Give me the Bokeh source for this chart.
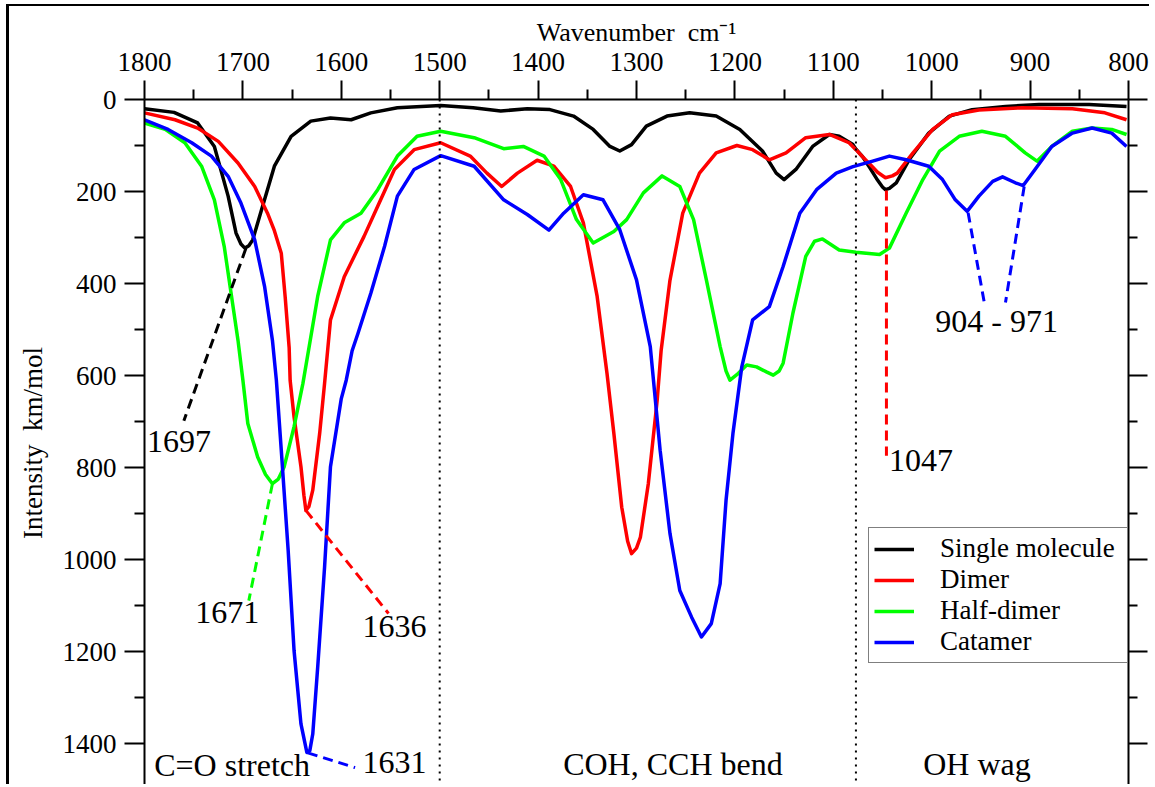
from bokeh.plotting import figure
from bokeh.models import (Range1d, LinearAxis, FixedTicker, Legend, LegendItem,
                          Span, CustomJSTickFormatter, LabelSet, ColumnDataSource)
from bokeh.embed import file_html
from bokeh.resources import INLINE

FONT = "Liberation Serif"

# ---------------- data (wavenumber cm^-1, intensity km/mol) ----------------
single_wn = [1800, 1770, 1746, 1729, 1715, 1707, 1702, 1698, 1694, 1690, 1680, 1668, 1651, 1631, 1611,
             1590, 1570, 1543, 1499, 1466, 1438, 1411, 1388, 1364, 1344, 1327, 1317, 1305, 1290, 1269,
             1246, 1219, 1195, 1172, 1158, 1150, 1138, 1121, 1104, 1094, 1080, 1077, 1070, 1063, 1056,
             1050, 1047, 1043, 1036, 1023, 1003, 982, 959, 925, 891, 840, 802]
single_int = [20, 28, 51, 102, 210, 290, 314, 323, 318, 305, 232, 145, 80, 47, 40,
              44, 29, 18, 13, 18, 25, 20, 22, 36, 65, 102, 112, 98, 58, 36,
              29, 36, 65, 112, 160, 174, 152, 102, 76, 80, 98, 108, 125, 148, 172,
              190, 196, 193, 181, 131, 73, 36, 22, 15, 11, 11, 15]

dimer_wn = [1800, 1769, 1746, 1725, 1705, 1688, 1675, 1668, 1661, 1657, 1653, 1652, 1648, 1641, 1638,
            1636, 1633, 1629, 1622, 1617, 1611, 1597, 1577, 1563, 1546, 1526, 1499, 1469, 1452, 1437,
            1421, 1401, 1384, 1367, 1354, 1340, 1330, 1323, 1315, 1309, 1305, 1300, 1296, 1288, 1279,
            1275, 1266, 1253, 1236, 1219, 1198, 1182, 1165, 1148, 1128, 1104, 1084, 1077, 1070, 1063,
            1055, 1047, 1040, 1035, 1019, 999, 979, 952, 908, 857, 824, 802]
dimer_int = [29, 44, 62, 91, 138, 189, 247, 285, 334, 430, 539, 610, 690, 798, 860,
             893, 885, 849, 726, 617, 479, 385, 298, 232, 152, 109, 94, 123, 160, 189,
             160, 132, 145, 189, 268, 428, 595, 726, 886, 960, 987, 975, 951, 835, 654,
             546, 393, 247, 160, 116, 100, 109, 131, 116, 83, 76, 94, 109, 125, 140,
             158, 170, 166, 160, 116, 65, 33, 23, 18, 20, 29, 44]

half_wn = [1800, 1779, 1759, 1742, 1729, 1719, 1712, 1705, 1700, 1695, 1685, 1677, 1670, 1664, 1658,
           1648, 1639, 1624, 1611, 1597, 1580, 1563, 1543, 1523, 1499, 1465, 1435, 1415, 1394, 1377,
           1361, 1344, 1323, 1310, 1293, 1274, 1256, 1242, 1229, 1215, 1209, 1205, 1198, 1188, 1178,
           1168, 1161, 1155, 1151, 1141, 1128, 1119, 1111, 1094, 1077, 1053, 1043, 1026, 1009, 992,
           972, 949, 925, 905, 893, 878, 857, 837, 817, 802]
half_int = [51, 65, 94, 145, 218, 319, 421, 523, 610, 704, 777, 815, 835, 825, 798,
            711, 617, 428, 305, 268, 247, 196, 123, 80, 69, 83, 107, 102, 123, 174,
            261, 312, 287, 261, 203, 166, 189, 261, 392, 537, 590, 610, 598, 577, 581,
            592, 599, 590, 573, 464, 341, 308, 303, 327, 332, 337, 323, 247, 174, 112,
            80, 69, 80, 116, 134, 102, 69, 62, 65, 76]

cat_wn = [1800, 1776, 1752, 1732, 1715, 1702, 1688, 1678, 1670, 1666, 1661, 1654, 1648, 1641, 1635,
          1632, 1629, 1624, 1617, 1611, 1600, 1595, 1589, 1583, 1570, 1556, 1543, 1526, 1499, 1465,
          1435, 1411, 1389, 1374, 1354, 1334, 1317, 1300, 1286, 1276, 1266, 1256, 1244, 1234, 1224,
          1215, 1209, 1202, 1193, 1182, 1165, 1151, 1134, 1117, 1097, 1080, 1060, 1043, 1026, 1003,
          989, 976, 964, 952, 938, 928, 915, 907, 895, 878, 857, 837, 817, 802]
cat_int = [44, 65, 94, 123, 167, 225, 305, 406, 523, 610, 762, 980, 1198, 1357, 1419,
           1415, 1379, 1234, 1016, 798, 650, 610, 546, 508, 421, 319, 210, 152, 122, 145,
           218, 250, 284, 247, 207, 218, 283, 392, 537, 762, 943, 1067, 1125, 1168, 1139,
           1052, 871, 726, 581, 479, 450, 363, 247, 196, 160, 146, 134, 123, 131, 145,
           174, 218, 243, 210, 178, 168, 181, 187, 152, 102, 73, 62, 73, 102]

series_names = ["Single molecule", "Dimer", "Half-dimer", "Catamer"]
series_colors = ["#000000", "#ff0000", "#00ff00", "#0000ff"]

# peak annotation leaders (wavenumber, intensity pairs)
leader_x = [[1697, 1760], [1670, 1694], [1636, 1552], [1634, 1586], [1046, 1046], [963, 946], [906, 925]]
leader_y = [[324, 698], [835, 1089], [893, 1117], [1420, 1452], [198, 774], [246, 448], [189, 441]]
leader_colors = ["#000000", "#00ff00", "#ff0000", "#0000ff", "#ff0000", "#0000ff", "#0000ff"]

ann_text = ["1697", "1671", "1636", "1631", "1047", "904 - 971", "C=O stretch", "COH, CCH bend", "OH wag"]
ann_x = [1765, 1716, 1546, 1546, 1011, 934, 1711, 1263, 954]
ann_y = [767, 1137, 1169, 1464, 808, 506, 1470, 1467, 1467]

region_bounds = [1500, 1077]

x_ticks = [1800, 1700, 1600, 1500, 1400, 1300, 1200, 1100, 1000, 900, 800]
x_minor = [1750, 1650, 1550, 1450, 1350, 1250, 1150, 1050, 950, 850]
y_ticks = [0, 200, 400, 600, 800, 1000, 1200, 1400]
y_minor = [100, 300, 500, 700, 900, 1100, 1300, 1500]

# ---------------- figure ----------------
p = figure(width=1143, height=780, output_backend="svg", toolbar_location=None,
           x_range=Range1d(1800, 800), y_range=Range1d(1493, 0),
           x_axis_location="above", y_axis_location="left",
           min_border_left=135, min_border_right=24, min_border_top=93, min_border_bottom=0,
           background_fill_color="white", border_fill_color="white")
p.outline_line_color = None
p.grid.visible = False
# page frame lines seen at the left and top edge of the reference
p.styles = {"margin-left": "6px", "margin-top": "4px",
            "border-left": "3px solid black", "border-top": "2px solid black"}


def style_axis(ax, tick_out, minor_out, standoff, size):
    ax.axis_line_width = 2
    ax.axis_line_color = "black"
    ax.major_tick_line_width = 2
    ax.minor_tick_line_width = 2
    ax.major_tick_line_color = "black"
    ax.minor_tick_line_color = "black"
    ax.major_tick_in = 0
    ax.minor_tick_in = 0
    ax.major_tick_out = tick_out
    ax.minor_tick_out = minor_out
    ax.major_label_standoff = standoff
    ax.major_label_text_font = FONT
    ax.major_label_text_font_size = size
    ax.major_label_text_color = "black"


xa = p.xaxis[0]
xa.ticker = FixedTicker(ticks=x_ticks, minor_ticks=x_minor)
style_axis(xa, 19, 10, 10, "27px")
xa.axis_label = "Wavenumber\u00a0\u00a0cm\u207b\u00b9"
xa.axis_label_text_font = FONT
xa.axis_label_text_font_size = "26px"
xa.axis_label_text_font_style = "normal"
xa.axis_label_text_color = "black"
xa.axis_label_standoff = 3

ya = p.yaxis[0]
ya.ticker = FixedTicker(ticks=y_ticks, minor_ticks=y_minor)
style_axis(ya, 20, 10, 8, "27px")
ya.axis_label = "Intensity\u00a0\u00a0km/mol"
ya.axis_label_text_font = FONT
ya.axis_label_text_font_size = "27px"
ya.axis_label_text_font_style = "normal"
ya.axis_label_text_color = "black"
ya.axis_label_standoff = 12

ra = LinearAxis(ticker=FixedTicker(ticks=y_ticks, minor_ticks=y_minor),
                formatter=CustomJSTickFormatter(code="return '';"))
style_axis(ra, 19, 9, 0, "1px")
p.add_layout(ra, "right")

# region separators
for b in region_bounds:
    p.add_layout(Span(location=b, dimension="height", line_color="black",
                      line_width=2, line_dash="2 5"))

# spectra
renderers = []
for wn, inten, col in zip([single_wn, dimer_wn, half_wn, cat_wn],
                          [single_int, dimer_int, half_int, cat_int], series_colors):
    r = p.line(wn, inten, line_color=col, line_width=3.5, line_join="round")
    renderers.append(r)

# leaders
p.multi_line(xs=leader_x, ys=leader_y, line_color=leader_colors, line_width=3, line_dash="10 6")

# annotation texts
ann_src = ColumnDataSource(dict(x=ann_x, y=ann_y, text=ann_text))
p.add_layout(LabelSet(x="x", y="y", text="text", source=ann_src, text_font=FONT,
                      text_font_size="32px", text_align="center",
                      text_baseline="alphabetic", text_color="black"))

legend = Legend(items=[LegendItem(label=n, renderers=[r]) for n, r in zip(series_names, renderers)],
                location=(724, 123), label_text_font=FONT, label_text_font_size="27px",
                label_text_color="black",
                glyph_width=40, glyph_height=28, label_height=28, label_width=182,
                spacing=0, padding=5, label_standoff=26,
                border_line_color="black", border_line_width=1.5,
                background_fill_color="white", background_fill_alpha=1.0, margin=0)
p.add_layout(legend)

open("out.html", "w").write(file_html(p, INLINE))
